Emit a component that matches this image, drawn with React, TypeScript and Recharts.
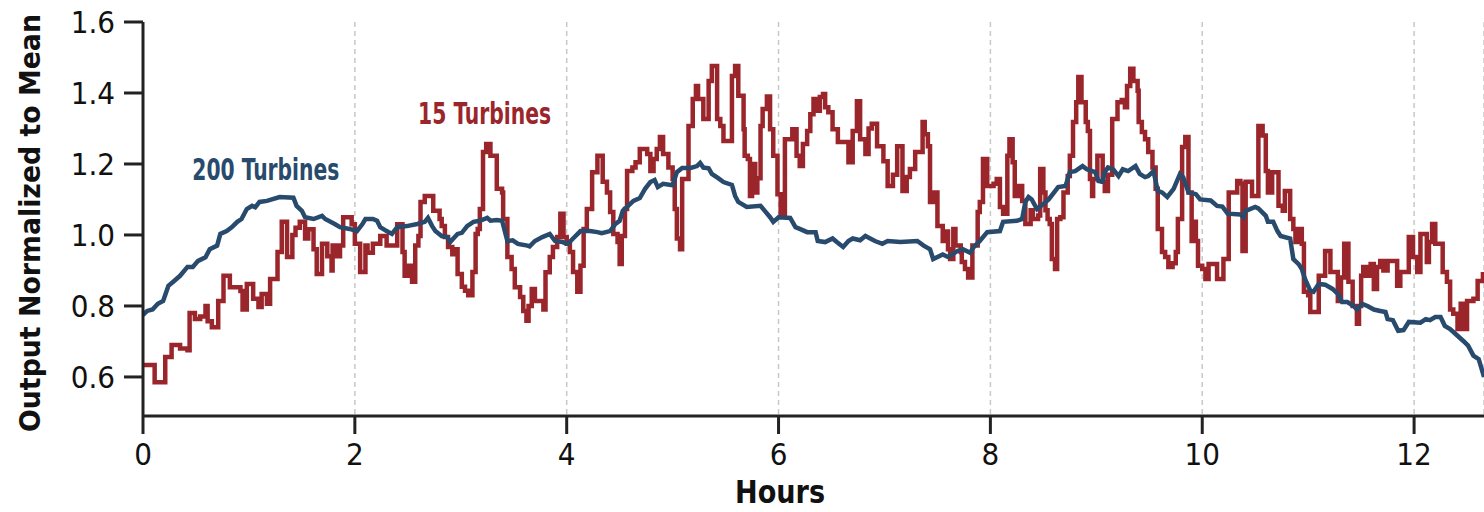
import { LineChart, Line, XAxis, YAxis, CartesianGrid, ReferenceDot, Label } from "recharts";

// 15 turbines: step series (hours, output / mean)
const turbines15Hours = [
  0.0, 0.11, 0.21, 0.27, 0.35, 0.42, 0.44, 0.49, 0.54, 0.59, 0.61, 0.65, 0.71, 0.76, 0.82, 0.92, 0.94, 0.98,
  1.04, 1.09, 1.12, 1.17, 1.2, 1.27, 1.31, 1.36, 1.41, 1.44, 1.48, 1.53, 1.56, 1.61, 1.64, 1.69, 1.74, 1.78,
  1.79, 1.83, 1.86, 1.89, 1.97, 2.0, 2.05, 2.1, 2.12, 2.17, 2.24, 2.3, 2.4, 2.45, 2.47, 2.5, 2.54, 2.57, 2.6,
  2.62, 2.66, 2.74, 2.8, 2.82, 2.85, 2.88, 2.92, 2.95, 2.97, 3.01, 3.04, 3.07, 3.11, 3.14, 3.16, 3.18, 3.21,
  3.24, 3.28, 3.34, 3.39, 3.4, 3.44, 3.48, 3.51, 3.56, 3.59, 3.62, 3.64, 3.67, 3.7, 3.78, 3.8, 3.84, 3.87,
  3.91, 3.94, 3.97, 4.0, 4.03, 4.06, 4.1, 4.13, 4.16, 4.19, 4.24, 4.29, 4.34, 4.38, 4.41, 4.44, 4.48, 4.5,
  4.52, 4.55, 4.57, 4.62, 4.65, 4.69, 4.76, 4.79, 4.82, 4.85, 4.88, 4.91, 4.96, 5.0, 5.02, 5.04, 5.07, 5.09,
  5.15, 5.19, 5.22, 5.24, 5.29, 5.34, 5.37, 5.42, 5.45, 5.48, 5.56, 5.59, 5.62, 5.67, 5.68, 5.71, 5.73, 5.75,
  5.78, 5.8, 5.83, 5.85, 5.89, 5.92, 5.95, 5.99, 6.02, 6.06, 6.13, 6.17, 6.2, 6.23, 6.27, 6.3, 6.33, 6.36,
  6.39, 6.42, 6.44, 6.47, 6.51, 6.56, 6.66, 6.7, 6.74, 6.77, 6.82, 6.85, 6.88, 6.93, 6.99, 7.03, 7.08, 7.12,
  7.17, 7.21, 7.24, 7.29, 7.36, 7.38, 7.41, 7.43, 7.46, 7.5, 7.55, 7.59, 7.6, 7.62, 7.65, 7.67, 7.72, 7.73,
  7.76, 7.79, 7.83, 7.88, 7.9, 7.93, 7.97, 8.03, 8.06, 8.09, 8.12, 8.16, 8.18, 8.21, 8.23, 8.26, 8.3, 8.33,
  8.38, 8.4, 8.45, 8.47, 8.5, 8.52, 8.54, 8.56, 8.58, 8.61, 8.63, 8.66, 8.69, 8.73, 8.75, 8.78, 8.81, 8.83,
  8.86, 8.9, 8.92, 8.94, 8.96, 8.97, 9.01, 9.06, 9.08, 9.11, 9.15, 9.2, 9.24, 9.27, 9.29, 9.32, 9.35, 9.39,
  9.4, 9.43, 9.46, 9.49, 9.53, 9.56, 9.58, 9.62, 9.65, 9.68, 9.72, 9.75, 9.77, 9.81, 9.84, 9.87, 9.9, 9.92,
  9.94, 9.96, 10.0, 10.03, 10.06, 10.14, 10.2, 10.25, 10.33, 10.36, 10.38, 10.41, 10.47, 10.53, 10.57, 10.6,
  10.62, 10.66, 10.72, 10.76, 10.78, 10.83, 10.86, 10.88, 10.91, 10.94, 10.96, 11.0, 11.02, 11.1, 11.16,
  11.21, 11.28, 11.31, 11.34, 11.38, 11.42, 11.46, 11.48, 11.5, 11.52, 11.56, 11.59, 11.62, 11.65, 11.68,
  11.71, 11.75, 11.84, 11.87, 11.95, 11.99, 12.03, 12.06, 12.12, 12.14, 12.17, 12.2, 12.27, 12.31, 12.34,
  12.37, 12.41, 12.44, 12.47, 12.5, 12.56, 12.6, 12.65,
];
const turbines15Output = [
  0.634, 0.585, 0.656, 0.69, 0.68, 0.675, 0.78, 0.763, 0.77, 0.8, 0.757, 0.74, 0.814, 0.885, 0.853, 0.842, 0.79, 0.862,
  0.82, 0.797, 0.834, 0.806, 0.876, 0.952, 1.037, 0.938, 1.0, 1.02, 1.037, 0.99, 1.016, 0.96, 0.89, 0.975, 0.94, 0.9,
  0.97, 0.94, 0.97, 1.05, 1.03, 0.975, 0.896, 0.97, 0.95, 0.975, 0.997, 0.97, 1.03, 0.952, 0.885, 0.913, 0.868, 0.97, 0.997,
  1.093, 1.11, 1.068, 1.045, 1.025, 0.994, 0.966, 0.946, 0.96, 0.89, 0.854, 0.843, 0.83, 0.896, 1.003, 1.017, 1.073, 1.234,
  1.256, 1.223, 1.13, 1.12, 1.045, 0.938, 0.904, 0.853, 0.825, 0.786, 0.758, 0.8, 0.848, 0.814, 0.79, 0.895, 0.938, 0.966,
  0.994, 1.06, 0.994, 0.975, 0.952, 0.896, 0.84, 0.913, 1.017, 1.073, 1.177, 1.223, 1.15, 1.12, 1.065, 1.003, 0.98, 0.918,
  0.997, 1.073, 1.18, 1.19, 1.205, 1.242, 1.228, 1.18, 1.214, 1.242, 1.276, 1.228, 1.19, 1.158, 1.073, 0.99, 0.96, 1.158,
  1.307, 1.383, 1.42, 1.383, 1.327, 1.434, 1.476, 1.327, 1.307, 1.265, 1.448, 1.476, 1.392, 1.298, 1.223, 1.214, 1.11, 1.2,
  1.12, 1.16, 1.307, 1.355, 1.39, 1.298, 1.223, 1.115, 1.06, 1.27, 1.298, 1.223, 1.194, 1.256, 1.293, 1.34, 1.383, 1.35,
  1.389, 1.397, 1.36, 1.346, 1.298, 1.262, 1.205, 1.293, 1.377, 1.27, 1.228, 1.3, 1.313, 1.25, 1.208, 1.138, 1.17, 1.25,
  1.124, 1.163, 1.186, 1.234, 1.318, 1.284, 1.25, 1.093, 1.12, 1.025, 0.983, 1.01, 0.96, 0.932, 1.017, 0.97, 0.952, 0.924,
  0.904, 0.88, 0.97, 1.065, 1.093, 1.214, 1.138, 1.144, 1.158, 1.079, 1.06, 1.223, 1.27, 1.205, 1.11, 1.138, 1.096, 1.031,
  1.07, 1.045, 1.055, 1.186, 1.12, 1.07, 1.045, 1.031, 0.932, 0.904, 1.045, 1.05, 1.12, 1.166, 1.223, 1.318, 1.374, 1.445,
  1.374, 1.318, 1.293, 1.158, 1.11, 1.158, 1.223, 1.15, 1.124, 1.17, 1.327, 1.374, 1.38, 1.36, 1.42, 1.468, 1.434, 1.406,
  1.318, 1.29, 1.27, 1.234, 1.19, 1.13, 1.017, 0.952, 0.938, 0.91, 0.92, 0.952, 1.045, 1.248, 1.276, 1.12, 0.983, 1.037,
  0.983, 0.913, 0.904, 0.876, 0.918, 0.876, 0.932, 1.12, 1.152, 1.145, 0.955, 1.15, 1.11, 1.307, 1.28, 1.18,
  1.12, 1.177, 1.082, 1.068, 1.124, 1.045, 1.017, 0.98, 1.017, 0.975, 0.84, 0.83, 0.783, 0.885, 0.955,
  0.896, 0.814, 0.88, 0.975, 0.868, 0.8, 0.75, 0.8, 0.885, 0.91, 0.885, 0.918, 0.848, 0.91, 0.927,
  0.9, 0.927, 0.857, 0.896, 0.994, 0.938, 0.896, 1.003, 0.924, 0.98, 1.031, 0.975, 0.896, 0.868, 0.79,
  0.778, 0.735, 0.806, 0.735, 0.814, 0.82, 0.87, 0.896,
];

// 200 turbines: smoother aggregate
const turbines200Hours = [
  0.0, 0.04, 0.09, 0.14, 0.19, 0.24, 0.28, 0.35, 0.42, 0.47, 0.52, 0.59, 0.63, 0.7, 0.73, 0.79, 0.84, 0.89, 0.93,
  0.98, 1.03, 1.06, 1.1, 1.17, 1.29, 1.42, 1.45, 1.5, 1.53, 1.61, 1.69, 1.72, 1.81, 1.86, 1.95, 2.02, 2.07, 2.1,
  2.17, 2.21, 2.24, 2.3, 2.35, 2.4, 2.49, 2.59, 2.66, 2.69, 2.73, 2.76, 2.82, 2.87, 2.9, 2.93, 2.97, 3.01, 3.06,
  3.12, 3.18, 3.25, 3.28, 3.34, 3.39, 3.44, 3.49, 3.54, 3.63, 3.65, 3.7, 3.77, 3.84, 3.89, 3.96, 4.01, 4.06, 4.13,
  4.22, 4.29, 4.33, 4.41, 4.46, 4.5, 4.53, 4.58, 4.63, 4.69, 4.74, 4.79, 4.83, 4.86, 4.91, 5.0, 5.04, 5.09, 5.17,
  5.23, 5.26, 5.29, 5.34, 5.37, 5.43, 5.48, 5.56, 5.59, 5.62, 5.7, 5.83, 5.87, 5.92, 5.95, 6.0, 6.11, 6.16, 6.2,
  6.27, 6.35, 6.37, 6.44, 6.51, 6.55, 6.61, 6.66, 6.7, 6.77, 6.82, 6.91, 6.98, 7.03, 7.15, 7.31, 7.37, 7.43, 7.46,
  7.55, 7.6, 7.69, 7.74, 7.81, 7.84, 7.9, 7.97, 8.09, 8.12, 8.25, 8.3, 8.33, 8.36, 8.39, 8.44, 8.5, 8.55, 8.64,
  8.71, 8.75, 8.8, 8.87, 8.91, 8.99, 9.02, 9.06, 9.08, 9.11, 9.16, 9.21, 9.25, 9.3, 9.37, 9.41, 9.46, 9.49, 9.54,
  9.58, 9.62, 9.67, 9.73, 9.79, 9.82, 9.87, 9.94, 9.98, 10.08, 10.14, 10.19, 10.24, 10.36, 10.39, 10.41, 10.5,
  10.53, 10.6, 10.62, 10.67, 10.71, 10.74, 10.83, 10.86, 10.91, 10.94, 10.97, 11.02, 11.05, 11.1, 11.16, 11.23,
  11.28, 11.32, 11.37, 11.43, 11.46, 11.51, 11.56, 11.62, 11.68, 11.73, 11.75, 11.8, 11.85, 11.9, 11.95, 12.06,
  12.11, 12.15, 12.2, 12.25, 12.29, 12.34, 12.41, 12.47, 12.51, 12.56, 12.61, 12.66,
];
const turbines200Output = [
  0.775, 0.786, 0.79, 0.806, 0.814, 0.857, 0.867, 0.885, 0.91, 0.91, 0.927, 0.937, 0.96, 0.97, 1.003, 1.011, 1.022, 1.037, 1.045,
  1.073, 1.082, 1.078, 1.093, 1.096, 1.107, 1.105, 1.082, 1.068, 1.05, 1.045, 1.054, 1.045, 1.031, 1.022, 1.017, 1.011, 1.03, 1.045,
  1.045, 1.04, 1.022, 1.011, 1.003, 1.022, 1.025, 1.031, 1.037, 1.048, 1.025, 1.011, 0.997, 0.994, 0.98, 0.99, 1.003, 1.006, 1.025,
  1.037, 1.04, 1.048, 1.04, 1.042, 1.04, 0.983, 0.985, 0.975, 0.97, 0.968, 0.983, 0.994, 1.003, 0.983, 0.98, 0.975, 0.99, 1.011,
  1.011, 1.008, 1.005, 1.011, 1.031, 1.04, 1.068, 1.082, 1.096, 1.104, 1.13, 1.149, 1.155, 1.135, 1.144, 1.14, 1.177, 1.189, 1.189,
  1.194, 1.203, 1.19, 1.188, 1.172, 1.16, 1.149, 1.141, 1.11, 1.093, 1.079, 1.082, 1.068, 1.05, 1.037, 1.05, 1.048, 1.022, 1.017,
  1.008, 1.008, 0.983, 0.98, 0.99, 0.98, 0.966, 0.983, 0.99, 0.985, 0.997, 0.983, 0.975, 0.983, 0.98, 0.983, 0.97, 0.96, 0.932,
  0.945, 0.938, 0.955, 0.96, 0.95, 0.965, 0.983, 1.008, 1.011, 1.037, 1.04, 1.045, 1.093, 1.107, 1.1, 1.073, 1.087, 1.1, 1.135,
  1.138, 1.177, 1.18, 1.194, 1.185, 1.177, 1.152, 1.15, 1.177, 1.19, 1.185, 1.166, 1.185, 1.18, 1.194, 1.172, 1.163, 1.166, 1.18,
  1.124, 1.12, 1.107, 1.13, 1.172, 1.163, 1.12, 1.115, 1.1, 1.097, 1.082, 1.08, 1.06, 1.058, 1.05, 1.068, 1.079,
  1.075, 1.054, 1.037, 1.037, 1.011, 0.997, 0.99, 0.932, 0.918, 0.904, 0.876, 0.843, 0.84, 0.862, 0.86, 0.848,
  0.834, 0.811, 0.811, 0.8, 0.79, 0.806, 0.8, 0.79, 0.786, 0.783, 0.763, 0.76, 0.73, 0.732, 0.755, 0.753,
  0.763, 0.76, 0.769, 0.769, 0.744, 0.735, 0.716, 0.7, 0.688, 0.66, 0.65, 0.6,
];

const hourTicks = [0, 2, 4, 6, 8, 10, 12];
const outputTicks = [0.6, 0.8, 1.0, 1.2, 1.4, 1.6];

const data15 = turbines15Hours.map((h, i) => ({ hour: h, value: turbines15Output[i] }));
const data200 = turbines200Hours.map((h, i) => ({ hour: h, value: turbines200Output[i] }));

const RED = "#9a262c";
const BLUE = "#284a6c";
const AXIS = "#222222";
const FONT = "'DejaVu Sans Condensed', 'Liberation Sans Narrow', 'Noto Sans', sans-serif";

function YTitle(props: any) {
  const vb = props.viewBox;
  const cx = 40;
  const cy = vb.y + vb.height / 2 + 4;
  return (
    <text
      x={cx}
      y={cy}
      transform={`rotate(-90, ${cx}, ${cy})`}
      textAnchor="middle"
      fontFamily={FONT}
      fontWeight="bold"
      fontSize={29}
      fill="#111"
      textLength={418}
      lengthAdjust="spacingAndGlyphs"
    >
      Output Normalized to Mean
    </text>
  );
}

function XTitle() {
  return (
    <text x={780} y={503} textAnchor="middle" fontFamily={FONT} fontWeight="bold" fontSize={32} fill="#111" textLength={90} lengthAdjust="spacingAndGlyphs">
      Hours
    </text>
  );
}

function annotation(text: string, color: string, width: number) {
  return (props: any) => {
    const vb = props.viewBox;
    const x = vb.x + vb.width / 2;
    const y = vb.y + vb.height / 2;
    return (
      <text x={x} y={y} textAnchor="middle" fontFamily={FONT} fontWeight="bold" fontSize={31} fill={color} textLength={width} lengthAdjust="spacingAndGlyphs">
        {text}
      </text>
    );
  };
}

export default function App() {
  return (
    <div style={{ position: "absolute", left: 0, top: 0, background: "#fff" }}>
      <LineChart width={1484} height={512} margin={{ top: 22, right: 0, left: 0, bottom: 0 }}>
        <CartesianGrid horizontal={false} stroke="#c8c8c8" strokeWidth={1.5} strokeDasharray="5 4" />
        <XAxis
          type="number"
          dataKey="hour"
          domain={[0, 12.66]}
          allowDataOverflow
          ticks={hourTicks}
          height={96}
          tickSize={18}
          tickMargin={9}
          stroke={AXIS}
          strokeWidth={3}
          tick={{ fill: "#111", fontSize: 31, fontFamily: FONT }}
        >
          <Label content={<XTitle />} />
        </XAxis>
        <YAxis
          type="number"
          domain={[0.49, 1.6]}
          allowDataOverflow
          ticks={outputTicks}
          width={143}
          tickSize={19}
          tickMargin={9}
          stroke={AXIS}
          strokeWidth={3}
          tickFormatter={(v: number) => v.toFixed(1)}
          tick={{ fill: "#111", fontSize: 31, fontFamily: FONT }}
        >
          <Label content={<YTitle />} />
        </YAxis>
        <Line
          data={data15}
          dataKey="value"
          type="stepAfter"
          stroke={RED}
          strokeWidth={4.5}
          dot={false}
          activeDot={false}
          isAnimationActive={false}
        />
        <Line
          data={data200}
          dataKey="value"
          type="linear"
          stroke={BLUE}
          strokeWidth={4.5}
          dot={false}
          activeDot={false}
          isAnimationActive={false}
        />
        <ReferenceDot x={1.16} y={1.155} r={0} fill="none" stroke="none" label={annotation("200 Turbines", BLUE, 147)} />
        <ReferenceDot x={3.225} y={1.313} r={0} fill="none" stroke="none" label={annotation("15 Turbines", RED, 133)} />
      </LineChart>
    </div>
  );
}
